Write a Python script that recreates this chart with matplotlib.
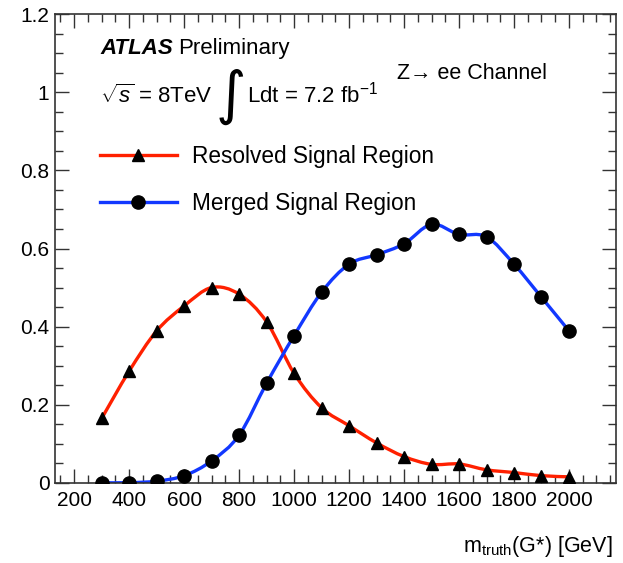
import numpy as np
import matplotlib
matplotlib.use("Agg")
import matplotlib.pyplot as plt
from matplotlib.path import Path
from matplotlib.patches import PathPatch
from matplotlib.lines import Line2D
from matplotlib.ticker import MultipleLocator

plt.rcParams['font.family'] = ['Liberation Sans', 'DejaVu Sans']
plt.rcParams['mathtext.fontset'] = 'custom'
plt.rcParams['mathtext.rm'] = 'Liberation Sans'
plt.rcParams['mathtext.it'] = 'Liberation Sans:italic'
plt.rcParams['mathtext.bf'] = 'Liberation Sans:bold'

# Signal efficiency vs. graviton truth mass
mass = [300, 400, 500, 600, 700, 800, 900, 1000, 1100, 1200,
        1300, 1400, 1500, 1600, 1700, 1800, 1900, 2000]
resolved = [0.165, 0.286, 0.389, 0.453, 0.500, 0.483, 0.412, 0.280, 0.192, 0.146,
            0.102, 0.067, 0.047, 0.048, 0.033, 0.026, 0.018, 0.015]
merged = [0.000, 0.000, 0.004, 0.018, 0.056, 0.122, 0.255, 0.377, 0.488, 0.560,
          0.584, 0.612, 0.662, 0.636, 0.630, 0.560, 0.475, 0.389]

labels = ["Resolved Signal Region", "Merged Signal Region"]
RED = '#ff2000'
BLUE = '#1238ff'

W, H = 623, 563
fig = plt.figure(figsize=(W / 100, H / 100), dpi=100)
ax = fig.add_axes([55 / W, 1 - 482.7 / H, (615.7 - 55) / W, (482.7 - 14.3) / H])


def smooth_path(xs, ys):
    """Catmull-Rom curve through the points, expressed as cubic Bezier segments."""
    p = np.column_stack([xs, ys]).astype(float)
    ext = np.vstack([p[0], p, p[-1]])
    verts = [p[0]]
    codes = [Path.MOVETO]
    for i in range(1, len(ext) - 2):
        p0, p1, p2, p3 = ext[i - 1], ext[i], ext[i + 1], ext[i + 2]
        c1 = p1 + (p2 - p0) / 6.0
        c2 = p2 - (p3 - p1) / 6.0
        verts += [c1, c2, p2]
        codes += [Path.CURVE4] * 3
    return Path(verts, codes)


for ys, col, mk, ms in [(resolved, RED, '^', 9), (merged, BLUE, 'o', 9.5)]:
    ax.add_patch(PathPatch(smooth_path(mass, ys), facecolor='none', edgecolor=col,
                           lw=2.4, zorder=2, capstyle='round'))
    ax.plot(mass, ys, linestyle='none', marker=mk, ms=ms, color='black', zorder=3)

ax.set_xlim(130, 2170)
ax.set_ylim(0, 1.2)

ax.xaxis.set_major_locator(MultipleLocator(200))
ax.xaxis.set_minor_locator(MultipleLocator(50))
ax.yaxis.set_major_locator(MultipleLocator(0.2))
ax.yaxis.set_minor_locator(MultipleLocator(0.05))
ax.set_xticks(np.arange(200, 2001, 200))
ax.set_xticklabels([str(v) for v in range(200, 2001, 200)])
ax.set_yticks([0, 0.2, 0.4, 0.6, 0.8, 1.0, 1.2])
ax.set_yticklabels(['0', '0.2', '0.4', '0.6', '0.8', '1', '1.2'])

ax.tick_params(which='both', direction='in', top=True, right=True,
               color='#333333', width=1.0, labelsize=15)
ax.tick_params(which='major', length=10)
ax.tick_params(which='minor', length=6)
ax.tick_params(axis='x', pad=6)
ax.tick_params(axis='y', pad=4)
for s in ax.spines.values():
    s.set_linewidth(1.2)
    s.set_color('#333333')


def fx(px):
    return px / W


def fy(py):
    return 1 - py / H


fig.text(fx(100), fy(54), r"ATLAS", fontsize=16, fontweight='bold', style='italic',
         va='baseline', ha='left')
fig.text(fx(178), fy(54), "Preliminary", fontsize=16, va='baseline', ha='left')
fig.text(fx(100), fy(103), r"$\sqrt{s}$ = 8TeV", fontsize=16, va='baseline', ha='left')
fig.text(fx(246), fy(113), "\u222b", fontsize=42, va='baseline', ha='right',
         family=['DejaVu Sans'])
fig.text(fx(247), fy(103), r"Ldt = 7.2 fb$^{\mathregular{-1}}$", fontsize=16,
         va='baseline', ha='left')
fig.text(fx(397), fy(79), "Z\u2192 ee Channel", fontsize=15.5, va='baseline', ha='left',
         family=['Liberation Sans', 'DejaVu Sans'])

handles = [Line2D([], [], color=RED, lw=2.4, marker='^', ms=9, mfc='black', mec='black'),
           Line2D([], [], color=BLUE, lw=2.4, marker='o', ms=9.5, mfc='black', mec='black')]
ax.legend(handles, labels, loc='upper left', bbox_to_anchor=(fx(100), fy(145)),
          bbox_transform=fig.transFigure, frameon=False, fontsize=16.3, numpoints=1,
          handlelength=3.4, handletextpad=0.65, labelspacing=1.05, borderpad=0,
          borderaxespad=0)

fig.text(fx(613), fy(552), r"m$_{\mathregular{truth}}$(G*) [GeV]", fontsize=15.5,
         va='baseline', ha='right')

fig.savefig("out.png", dpi=100)
